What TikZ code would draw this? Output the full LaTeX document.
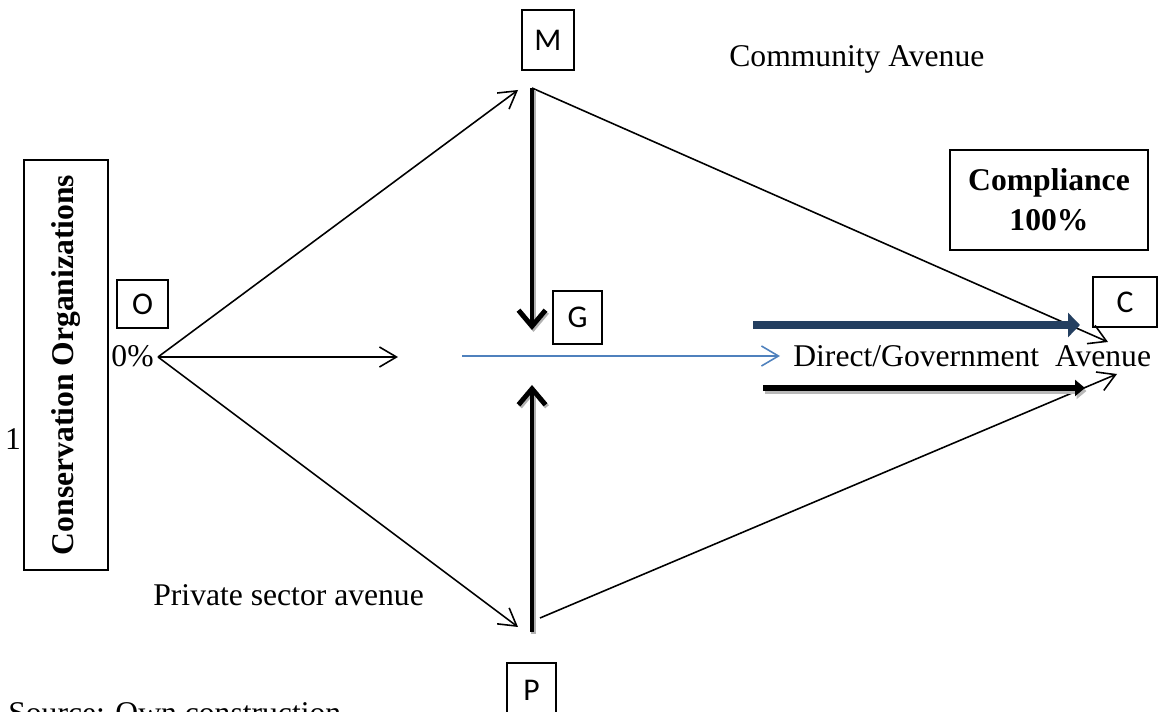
\documentclass[tikz,border=0pt]{standalone}
\usepackage{fontspec}
\setmainfont{Liberation Serif}
\newfontfamily\calib{Carlito}
\usepackage{tikz}
\usetikzlibrary{arrows.meta}
\definecolor{navy}{HTML}{243F60}
\definecolor{lineblue}{HTML}{4F81BD}
\tikzset{
  box/.style={draw, line width=0.8pt, inner sep=0pt},
  letter/.style={box, font=\calib\fontsize{18}{21}\selectfont},
  lbl/.style={inner sep=0pt, font=\fontsize{18}{21}\selectfont},
  thinarrow/.style={line width=0.9pt, -{Straight Barb[length=3.4mm,width=4mm]}},
  bigarrow/.style={line width=2.8pt, -{Straight Barb[length=3.2mm,width=5.4mm]}},
  shadowline/.style={gray!60, line width=2.8pt}
}
\begin{document}
\begin{tikzpicture}[x=0.02cm,y=-0.02cm]
        \useasboundingbox (0,0) rectangle (1171,712);
        \node[box, rotate=90, minimum width=8.2cm, minimum height=1.68cm, font=\bfseries\fontsize{18}{21}\selectfont] (org) at (66,365) {Conservation Organizations};
        \node[lbl, anchor=base] (one) at (13,450) {1};
        \node[letter, minimum width=1.02cm, minimum height=0.96cm] (boxO) at (142.5,304) {O};
        \node[lbl, anchor=base east] (zero) at (154,367) {0\%};
        \node[letter, minimum width=1.04cm, minimum height=1.2cm] (boxM) at (548,40) {M};
        \node[letter, minimum width=0.98cm, minimum height=1.06cm] (boxG) at (577.5,317.5) {G};
        \node[letter, minimum width=1.28cm, minimum height=1.0cm] (boxC) at (1125,302) {C};
        \node[letter, minimum width=0.98cm, minimum height=1.08cm] (boxP) at (531.5,690) {P};
        \node[box, align=center, minimum width=3.96cm, minimum height=2cm, font=\bfseries\fontsize{18}{23}\selectfont] (comp) at (1049,200) {Compliance\\100\%};
        \node[lbl, anchor=base west] (comm) at (729,67) {Community Avenue};
        \node[lbl, anchor=base west] (priv) at (153,606) {Private sector avenue};
        \node[lbl, anchor=base west] (direct) at (793,367) {Direct/Government\ \ Avenue};
        \node[lbl, anchor=base west] (source) at (8,724) {Source: Own construction};

        \coordinate (o) at (158,357);
        \coordinate (mend) at (518,90);
        \coordinate (pend) at (518,627);
        \coordinate (gend) at (398,357);
        \coordinate (mtop) at (532,88);
        \coordinate (mtip) at (532,330);
        \coordinate (pbot) at (532,632);
        \coordinate (ptip) at (532,385);
        \coordinate (pstart) at (540,618);
        \coordinate (cup) at (1108,342);
        \coordinate (cdown) at (1117,374);
        \coordinate (bstart) at (462,356);
        \coordinate (bend) at (780,356);
        \coordinate (nstart) at (753,325);
        \coordinate (nend) at (1080,325);
        \coordinate (kstart) at (763,388);
        \coordinate (kend) at (1085,388);

        \draw[thinarrow] (o) -- (mend);
        \draw[thinarrow] (o) -- (gend);
        \draw[thinarrow] (o) -- (pend);
        \draw[thinarrow] (mtop) -- (cup);
        \draw[thinarrow] (pstart) -- (cdown);
        \draw[line width=0.9pt, lineblue, -{Straight Barb[length=3.4mm,width=4mm]}] (bstart) -- (bend);
        \draw[shadowline, -{Straight Barb[length=3.2mm,width=5.4mm]}] ([shift={(1.5,2)}]mtop) -- ([shift={(1.5,2)}]mtip);
        \draw[bigarrow] (mtop) -- (mtip);
        \draw[shadowline, -{Straight Barb[length=3.2mm,width=5.4mm]}] ([shift={(1.5,2)}]pbot) -- ([shift={(1.5,2)}]ptip);
        \draw[bigarrow] (pbot) -- (ptip);
        \draw[navy, line width=4.8pt, -{Triangle[length=2.4mm,width=4.8mm]}] (nstart) -- (nend);
        \draw[gray!55, line width=3.4pt, -{Triangle[length=2mm,width=3.2mm]}] ([shift={(1.5,3)}]kstart) -- ([shift={(1.5,3)}]kend);
        \draw[black, line width=3.4pt, -{Triangle[length=2mm,width=3.2mm]}] (kstart) -- (kend);
\end{tikzpicture}
\end{document}
